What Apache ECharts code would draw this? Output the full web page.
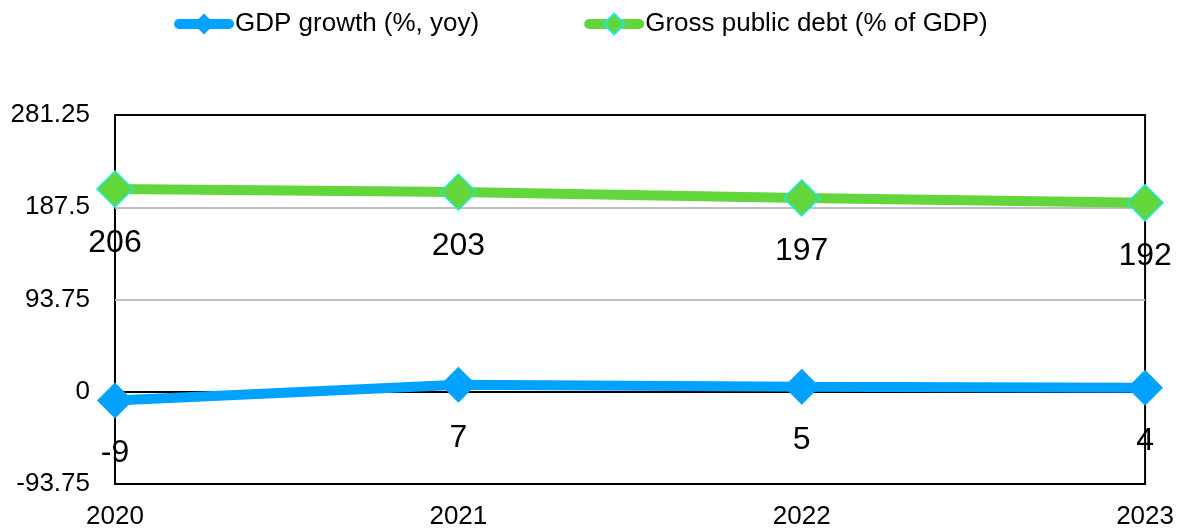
<!DOCTYPE html>
<html>
<head>
<meta charset="utf-8">
<script src="https://cdn.jsdelivr.net/npm/echarts@6/dist/echarts.min.js"></script>
<style>
  html, body { margin: 0; padding: 0; background: #fff; }
  #chart { width: 1177px; height: 530px; }
</style>
</head>
<body>
<div id="chart"></div>
<script>
  const years = ['2020', '2021', '2022', '2023']
  const gdpGrowth = [-9, 7, 5, 4]
  const publicDebt = [206, 203, 197, 192]
  const yMin = -93.75
  const yMax = 281.25
  const yStep = 93.75

  const chart = echarts.init(document.getElementById('chart'))

  const labelStyle = {
    show: true,
    position: 'bottom',
    distance: 19,
    fontSize: 32,
    color: '#000',
    fontFamily: 'Liberation Sans'
  }

  chart.setOption({
    textStyle: { fontFamily: 'Liberation Sans' },
    legend: {
      top: 11,
      left: 174,
      padding: 0,
      itemWidth: 50,
      itemHeight: 26,
      itemGap: 105,
      lineStyle: { width: 10, cap: 'round' },
      textStyle: { fontSize: 26, color: '#000', padding: [0, 0, 0, 1] },
      data: ['GDP growth (%, yoy)', 'Gross public debt (% of GDP)']
    },
    grid: {
      left: 115,
      right: 31,
      top: 115,
      bottom: 41,
      show: true,
      borderColor: '#000',
      borderWidth: 2,
      containLabel: false
    },
    xAxis: {
      type: 'category',
      data: years,
      boundaryGap: false,
      axisLine: { onZero: false, lineStyle: { color: '#000', width: 2 } },
      axisTick: { show: false },
      axisLabel: { fontSize: 26, color: '#000', margin: 20 }
    },
    yAxis: {
      type: 'value',
      min: yMin,
      max: yMax,
      interval: yStep,
      axisLine: { show: false },
      axisTick: { show: false },
      axisLabel: {
        fontSize: 26,
        color: '#000',
        margin: 25,
        formatter: v => String(Math.round(v * 100) / 100)
      },
      splitLine: {
        show: true,
        lineStyle: {
          color: ['#000', '#000', '#bfbfbf', '#bfbfbf', '#000'],
          width: 2
        }
      }
    },
    series: [{
      name: 'GDP growth (%, yoy)',
      type: 'line',
      data: gdpGrowth,
      symbol: 'diamond',
      symbolSize: 36,
      lineStyle: { color: '#00A2FF', width: 10 },
      itemStyle: { color: '#00A2FF' },
      label: labelStyle,
      z: 3
    }, {
      name: 'Gross public debt (% of GDP)',
      type: 'line',
      data: publicDebt,
      symbol: 'diamond',
      symbolSize: 36,
      lineStyle: { color: '#62D63A', width: 10 },
      itemStyle: { color: '#62D63A', borderColor: '#1EE8E0', borderWidth: 1.5 },
      label: labelStyle,
      z: 3
    }]
  })
</script>
</body>
</html>
